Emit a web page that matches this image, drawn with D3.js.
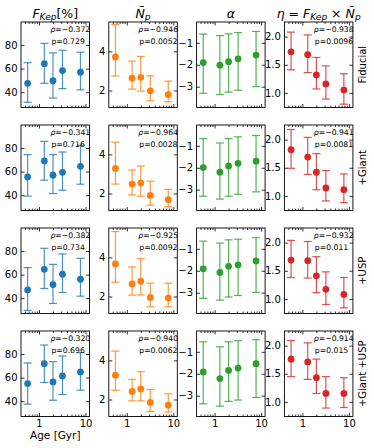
<!DOCTYPE html>
<html>
<head>
<meta charset="utf-8">
<script src="https://cdn.jsdelivr.net/npm/d3@7"></script>
<style>
  body { margin: 0; background: #fff; }
  svg { display: block; font-family: 'DejaVu Sans', sans-serif; }
</style>
</head>
<body>
<script>
// stellar age bins [Gyr]
var ages = [0.57, 1.3, 2.0, 3.2, 7.8];
var rowNames = ['Fiducial', '+Giant', '+USP', '+Giant +USP'];

// F_Kep [%]: value, lower end, upper end of error bar (one row per sample)
var fkepVal = [[47.5, 64.2, 49.7, 58.3, 56.9], [55.5, 69.0, 56.9, 59.4, 64.5], [47.0, 64.5, 51.5, 60.3, 56.1], [54.9, 71.8, 56.3, 61.4, 64.8]];
var fkepLo = [[31.4, 47.5, 35.0, 43.0, 42.0], [39.2, 52.7, 41.4, 44.2, 49.3], [29.6, 48.2, 35.5, 44.8, 41.7], [37.5, 55.8, 40.8, 45.6, 49.3]];
var fkepHi = [[65.0, 81.4, 73.3, 75.6, 73.9], [74.4, 85.6, 74.4, 76.6, 82.3], [65.9, 82.3, 68.7, 77.5, 73.8], [72.4, 87.6, 73.5, 78.3, 81.1]];

// mean number of planets
var npVal = [[3.71, 2.63, 2.67, 1.98, 1.79], [3.28, 2.48, 2.53, 1.90, 1.68], [3.66, 2.64, 2.78, 1.95, 1.92], [3.24, 2.41, 2.54, 1.85, 1.71]];
var npLo = [[2.74, 2.07, 1.97, 1.47, 1.42], [2.48, 1.93, 1.86, 1.40, 1.32], [2.73, 2.07, 2.08, 1.47, 1.47], [2.47, 1.93, 1.93, 1.39, 1.36]];
var npHi = [[5.37, 3.50, 3.74, 2.75, 2.48], [4.62, 3.20, 3.40, 2.63, 2.21], [5.32, 3.51, 3.93, 2.68, 2.68], [4.47, 3.03, 3.42, 2.51, 2.29]];

// alpha
var alphaVal = [[-1.90, -2.02, -1.86, -1.73, -1.56], [-1.99, -2.20, -1.92, -1.80, -1.70], [-1.91, -2.08, -1.80, -1.73, -1.55], [-1.92, -2.22, -1.85, -1.74, -1.54]];
var alphaLo = [[-3.30, -3.36, -3.25, -3.16, -3.00], [-3.30, -3.43, -3.30, -3.21, -3.10], [-3.26, -3.34, -3.20, -3.13, -2.99], [-3.37, -3.48, -3.26, -3.20, -3.08]];
var alphaHi = [[-0.60, -0.67, -0.59, -0.53, -0.48], [-0.67, -0.87, -0.67, -0.59, -0.53], [-0.65, -0.74, -0.59, -0.56, -0.50], [-0.54, -0.77, -0.54, -0.49, -0.45]];

// eta = F_Kep x N_p
var etaVal = [[1.73, 1.68, 1.32, 1.16, 1.05], [1.82, 1.69, 1.42, 1.14, 1.11], [1.69, 1.68, 1.41, 1.17, 1.08], [1.76, 1.71, 1.43, 1.15, 1.15]];
var etaLo = [[1.41, 1.36, 1.07, 0.89, 0.80], [1.49, 1.38, 1.11, 0.91, 0.88], [1.38, 1.37, 1.11, 0.90, 0.84], [1.45, 1.40, 1.15, 0.89, 0.90]];
var etaHi = [[2.08, 2.03, 1.63, 1.48, 1.34], [2.18, 2.04, 1.75, 1.45, 1.39], [2.04, 2.02, 1.75, 1.48, 1.38], [2.09, 2.05, 1.76, 1.45, 1.43]];

// correlation stats
var fkepRho = ['-0.372', '-0.341', '-0.382', '-0.320'];
var fkepP = ['0.729', '0.716', '0.734', '0.696'];
var npRho = ['-0.946', '-0.964', '-0.925', '-0.940'];
var npP = ['0.0052', '0.0028', '0.0092', '0.0062'];
var etaRho = ['-0.938', '-0.941', '-0.932', '-0.914'];
var etaP = ['0.0096', '0.0081', '0.011', '0.015'];

var yTicksF = [40, 60, 80];
var yTicksN = [2, 4];
var yTicksA = [-3, -2, -1];
var yTicksE = [1.0, 1.5, 2.0];
var xTicks = [1, 10];

var columns = [
  { val: fkepVal, lo: fkepLo, hi: fkepHi, rho: fkepRho, p: fkepP, color: '#1f77b4', domain: [27, 99.5], ticks: yTicksF, fmt: d3.format('d') },
  { val: npVal, lo: npLo, hi: npHi, rho: npRho, p: npP, color: '#ff7f0e', domain: [1.13, 5.5], ticks: yTicksN, fmt: d3.format('d') },
  { val: alphaVal, lo: alphaLo, hi: alphaHi, rho: null, p: null, color: '#2ca02c', domain: [-3.95, -0.05], ticks: yTicksA, fmt: d3.format('d') },
  { val: etaVal, lo: etaLo, hi: etaHi, rho: etaRho, p: etaP, color: '#d62728', domain: [0.74, 2.26], ticks: yTicksE, fmt: d3.format('.1f') }
];

var W = 374, H = 448;
var panelW = 68.5, panelH = 85.5;
var lefts = [21, 108.8, 196.6, 284.4];
var tops = [22, 125, 228, 331];

var svg = d3.select('body').append('svg').attr('width', W).attr('height', H);

var x = d3.scaleLog().domain([0.41, 12.2]).range([0, panelW]);
var minorX = [0.5, 0.6, 0.7, 0.8, 0.9, 2, 3, 4, 5, 6, 7, 8, 9];
var noLabel = function() { return ''; };

function mathTitle(g, parts) {
  var t = g.append('text')
    .attr('text-anchor', 'middle')
    .attr('font-size', 12.5)
    .attr('fill', '#000');
  parts.forEach(function(p) {
    var s = t.append('tspan').text(p.t);
    if (p.i) s.attr('font-style', 'italic');
    if (p.sub) s.attr('font-size', 9).attr('baseline-shift', '-25%');
  });
  return t;
}

for (var r = 0; r < 4; r++) {
  for (var c = 0; c < 4; c++) {
    var col = columns[c];
    var y = d3.scaleLinear().domain(col.domain).range([panelH, 0]);
    var g = svg.append('g').attr('transform', 'translate(' + lefts[c] + ',' + tops[r] + ')');

    // axes: ticks point inward on all four sides
    var axB = d3.axisBottom(x).tickValues(xTicks).tickSize(-3.5).tickPadding(3.5)
      .tickFormat(r === 3 ? d3.format('d') : noLabel);
    var axT = d3.axisTop(x).tickValues(xTicks).tickSize(-3.5).tickFormat(noLabel);
    var axL = d3.axisLeft(y).tickValues(col.ticks).tickSize(-3.5).tickPadding(3.5).tickFormat(col.fmt);
    var axR = d3.axisRight(y).tickValues(col.ticks).tickSize(-3.5).tickFormat(noLabel);

    var minB = d3.axisBottom(x).tickValues(minorX).tickSize(-2).tickFormat(noLabel);
    var minT = d3.axisTop(x).tickValues(minorX).tickSize(-2).tickFormat(noLabel);

    g.append('g').attr('transform', 'translate(0,' + panelH + ')').call(axB);
    g.append('g').attr('transform', 'translate(0,' + panelH + ')').call(minB);
    g.append('g').call(axT);
    g.append('g').call(minT);
    g.append('g').call(axL);
    g.append('g').attr('transform', 'translate(' + panelW + ',0)').call(axR);

    g.selectAll('.domain').remove();
    g.selectAll('.tick line').attr('stroke', '#000').attr('stroke-width', 0.8);
    g.selectAll('.tick text').attr('font-size', 10).attr('fill', '#000').attr('font-family', 'DejaVu Sans, sans-serif');

    g.append('rect')
      .attr('width', panelW).attr('height', panelH)
      .attr('fill', 'none').attr('stroke', '#000').attr('stroke-width', 0.9);

    var pts = ages.map(function(a, i) {
      return { a: a, v: col.val[r][i], lo: col.lo[r][i], hi: col.hi[r][i] };
    });

    var eb = g.selectAll('g.eb').data(pts).enter().append('g').attr('class', 'eb')
      .attr('stroke', col.color).attr('stroke-width', 1.2).attr('stroke-opacity', 0.8);
    eb.append('line')
      .attr('x1', function(d) { return x(d.a); })
      .attr('x2', function(d) { return x(d.a); })
      .attr('y1', function(d) { return y(d.lo); })
      .attr('y2', function(d) { return y(d.hi); });
    eb.append('line')
      .attr('x1', function(d) { return x(d.a) - 4; })
      .attr('x2', function(d) { return x(d.a) + 4; })
      .attr('y1', function(d) { return y(d.lo); })
      .attr('y2', function(d) { return y(d.lo); });
    eb.append('line')
      .attr('x1', function(d) { return x(d.a) - 4; })
      .attr('x2', function(d) { return x(d.a) + 4; })
      .attr('y1', function(d) { return y(d.hi); })
      .attr('y2', function(d) { return y(d.hi); });

    g.selectAll('circle').data(pts).enter().append('circle')
      .attr('cx', function(d) { return x(d.a); })
      .attr('cy', function(d) { return y(d.v); })
      .attr('r', 3.4)
      .attr('fill', col.color);

    if (col.rho) {
      var tx = panelW * 0.43;
      var t1 = g.append('text').attr('x', tx).attr('y', 10).attr('font-size', 7.7).attr('fill', '#000');
      t1.append('tspan').attr('font-style', 'italic').text('\u03c1');
      t1.append('tspan').text('=' + col.rho[r].replace('-', '\u2212'));
      g.append('text').attr('x', tx + 1).attr('y', 21.5).attr('font-size', 7.7).attr('fill', '#000')
        .text('p=' + col.p[r]);
    }

    if (c === 3) {
      svg.append('text')
        .attr('transform', 'translate(' + 366 + ',' + (tops[r] + panelH / 2) + ') rotate(-90)')
        .attr('text-anchor', 'middle')
        .attr('font-size', 10)
        .attr('fill', '#000')
        .text(rowNames[r]);
    }
  }
}

// column titles
var titleY = 17.5;
mathTitle(svg.append('g').attr('transform', 'translate(' + (lefts[0] + panelW / 2) + ',' + titleY + ')'),
  [{ t: 'F', i: true }, { t: 'Kep', i: true, sub: true }, { t: '[%]' }]);
mathTitle(svg.append('g').attr('transform', 'translate(' + (lefts[1] + panelW / 2) + ',' + titleY + ')'),
  [{ t: 'N\u0304', i: true }, { t: 'p', i: true, sub: true }]);
mathTitle(svg.append('g').attr('transform', 'translate(' + (lefts[2] + panelW / 2) + ',' + titleY + ')'),
  [{ t: '\u03b1', i: true }]);
mathTitle(svg.append('g').attr('transform', 'translate(' + (lefts[3] + panelW / 2) + ',' + titleY + ')'),
  [{ t: '\u03b7', i: true }, { t: ' = ' }, { t: 'F', i: true }, { t: 'Kep', i: true, sub: true }, { t: ' \u00d7 ' }, { t: 'N\u0304', i: true }, { t: 'p', i: true, sub: true }]);

svg.append('text')
  .attr('x', lefts[0] + panelW / 2)
  .attr('y', 439)
  .attr('text-anchor', 'middle')
  .attr('font-size', 10.5)
  .attr('fill', '#000')
  .text('Age [Gyr]');
</script>
</body>
</html>
